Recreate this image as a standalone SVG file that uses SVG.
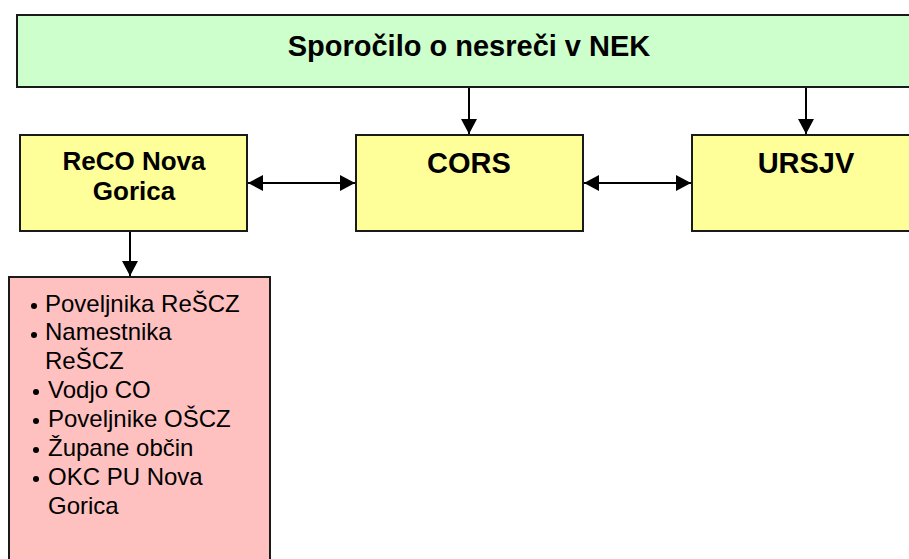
<svg xmlns="http://www.w3.org/2000/svg" width="909" height="559" viewBox="0 0 909 559">
<defs>
<style>
.box{stroke:#1a1a1a;stroke-width:2}
.t{font-family:"Liberation Sans",Arial,sans-serif;fill:#000}
.b{font-weight:bold}
.c{stroke:#000;stroke-width:2;fill:none}
</style>
<marker id="ah" viewBox="0 0 15 16" refX="15" refY="8" markerWidth="15" markerHeight="16" markerUnits="userSpaceOnUse" orient="auto-start-reverse">
<path d="M0,0 L15,8 L0,16 Z" fill="#000"/>
</marker>
</defs>
<rect width="909" height="559" fill="#fff"/>
<g id="connectors">
<line class="c" x1="469" y1="87" x2="469" y2="134" marker-end="url(#ah)"/>
<line class="c" x1="806" y1="87" x2="806" y2="134" marker-end="url(#ah)"/>
<line class="c" x1="248" y1="183" x2="355" y2="183" marker-start="url(#ah)" marker-end="url(#ah)"/>
<line class="c" x1="584" y1="183" x2="691" y2="183" marker-start="url(#ah)" marker-end="url(#ah)"/>
<line class="c" x1="130" y1="231" x2="130" y2="276" marker-end="url(#ah)"/>
</g>
<g id="nek">
<rect class="box" x="17" y="15" width="900" height="72" fill="#ccffcc"/>
<text class="t b" x="469" y="56" font-size="29" text-anchor="middle">Sporočilo o nesreči v NEK</text>
</g>
<g id="reco">
<rect class="box" x="20" y="135" width="227" height="96" fill="#ffff99"/>
<text class="t b" x="134" y="170" font-size="26" text-anchor="middle">ReCO Nova</text>
<text class="t b" x="134" y="200" font-size="26" text-anchor="middle">Gorica</text>
</g>
<g id="cors">
<rect class="box" x="356" y="135" width="227" height="96" fill="#ffff99"/>
<text class="t b" x="469" y="173" font-size="29" text-anchor="middle">CORS</text>
</g>
<g id="ursjv">
<rect class="box" x="692" y="135" width="230" height="96" fill="#ffff99"/>
<text class="t b" x="806" y="173" font-size="29" text-anchor="middle">URSJV</text>
</g>
<g id="list">
<rect class="box" x="9" y="277" width="261" height="290" fill="#ffc0c0"/>
<circle cx="34" cy="306" r="3"/>
<circle cx="34" cy="335" r="3"/>
<circle cx="36" cy="392" r="3"/>
<circle cx="36" cy="421" r="3"/>
<circle cx="36" cy="450" r="3"/>
<circle cx="36" cy="479" r="3"/>
<g class="t" font-size="24">
<text x="45" y="312">Poveljnika ReŠCZ</text>
<text x="45" y="340">Namestnika</text>
<text x="45" y="369">ReŠCZ</text>
<text x="48" y="398">Vodjo CO</text>
<text x="48" y="427">Poveljnike OŠCZ</text>
<text x="48" y="456">Župane občin</text>
<text x="48" y="485">OKC PU Nova</text>
<text x="48" y="514">Gorica</text>
</g>
</g>
</svg>
